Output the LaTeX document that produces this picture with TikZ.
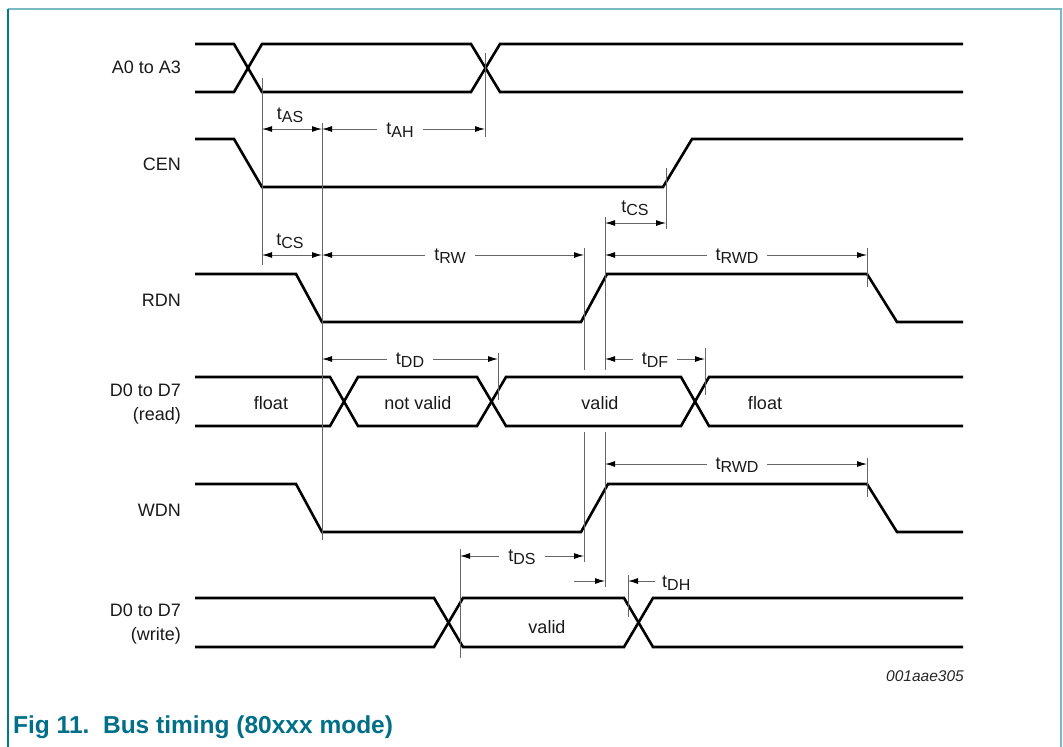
\documentclass[tikz,border=0pt]{standalone}
\usepackage{fontspec}
\setmainfont{Liberation Sans}
\usetikzlibrary{arrows.meta}
\definecolor{frameL}{RGB}{0,122,140}
\definecolor{frameT}{RGB}{120,186,196}
\definecolor{titlec}{RGB}{0,111,135}
\newcommand{\tlab}[1]{t\raisebox{-3pt}{\fontsize{16}{16}\selectfont #1}}
\begin{document}
\begin{tikzpicture}[x=1pt,y=-1pt,
  sig/.style={line width=2.6pt, line join=miter},
  refl/.style={line width=1pt, black!60},
  dimarr/.style={line width=1pt, black!60, {Latex[length=10pt,width=6pt,black]}-{Latex[length=10pt,width=6pt,black]}},
  onearr/.style={line width=1pt, black!60, -{Latex[length=10pt,width=6pt,black]}},
  lab/.style={font=\fontsize{18}{24}\selectfont, text=black!90, inner sep=1pt},
  ilab/.style={lab, fill=white, inner xsep=9pt},
  sname/.style={lab, anchor=east, align=right},
]
\useasboundingbox (0,0) rectangle (1063,747);
% frame
\draw[frameT, line width=2pt] (8,9) -- (1061,9) -- (1061,747);
\draw[frameL, line width=1.6pt] (8,9) -- (8,747);

% signal names
\node[sname] (nA) at (182,67) {A0 to A3};
\node[sname] (nC) at (182,164) {CEN};
\node[sname] (nR) at (182,300) {RDN};
\node[sname] (nDr) at (182,404) {D0 to D7\\(read)};
\node[sname] (nW) at (182,510) {WDN};
\node[sname] (nDw) at (182,624) {D0 to D7\\(write)};

% A0 to A3
\draw[sig] (195,44)--(234,44)--(262,92)--(471,92)--(500,44)--(963,44);
\draw[sig] (195,92)--(234,92)--(262,44)--(471,44)--(500,92)--(963,92);
% CEN
\draw[sig] (195,139)--(234,139)--(262,187)--(663,187)--(692,139)--(963,139);
% RDN
\draw[sig] (195,274)--(296,274)--(322,322)--(581,322)--(607,274)--(867,274)--(897,322)--(963,322);
% D0-D7 read
\draw[sig] (195,377)--(330,377)--(358,426)--(477,426)--(506,377)--(681,377)--(709,426)--(963,426);
\draw[sig] (195,426)--(330,426)--(358,377)--(477,377)--(506,426)--(681,426)--(709,377)--(963,377);
% WDN
\draw[sig] (195,484)--(296,484)--(322,532)--(581,532)--(608,484)--(867,484)--(897,532)--(963,532);
% D0-D7 write
\draw[sig] (195,598)--(434,598)--(463,647)--(624,647)--(653,598)--(963,598);
\draw[sig] (195,647)--(434,647)--(463,598)--(624,598)--(653,647)--(963,647);

% data labels
\node[lab] (f1) at (271,403) {float};
\node[lab] (nv) at (418,403) {not valid};
\node[lab] (v1) at (600,403) {valid};
\node[lab] (f2) at (765,403) {float};
\node[lab] (v2) at (547,627) {valid};

% reference lines
\draw[refl] (262,78) -- (262,265);
\draw[refl] (322,123) -- (322,540);
\draw[refl] (485,53) -- (485,137);
\draw[refl] (666,168) -- (666,229);
\draw[refl] (584,248) -- (584,370);
\draw[refl] (584,432) -- (584,562);
\draw[refl] (605,217) -- (605,370);
\draw[refl] (605,432) -- (605,587);
\draw[refl] (867,248) -- (867,287);
\draw[refl] (498,353) -- (498,400);
\draw[refl] (705,348) -- (705,395);
\draw[refl] (867,458) -- (867,497);
\draw[refl] (460,549) -- (460,658);
\draw[refl] (628,575) -- (628,617);

% dimension arrows
\draw[dimarr] (262,129) -- (322,129);
\node[lab] (tAS) at (290,115) {\tlab{AS}};
\draw[dimarr] (322,129) -- (485,129);
\node[ilab] (tAH) at (400,130) {\tlab{AH}};

\draw[dimarr] (262,255) -- (322,255);
\node[lab] (tCS1) at (290,241) {\tlab{CS}};
\draw[dimarr] (322,255) -- (584,255);
\node[ilab] (tRW) at (450,256) {\tlab{RW}};

\draw[dimarr] (605,223) -- (666,223);
\node[lab] (tCS2) at (635,208) {\tlab{CS}};
\draw[dimarr] (605,255) -- (867,255);
\node[ilab] (tRWD1) at (737,256) {\tlab{RWD}};

\draw[dimarr] (322,359) -- (498,359);
\node[ilab] (tDD) at (410,360) {\tlab{DD}};
\draw[dimarr] (605,359) -- (705,359);
\node[ilab] (tDF) at (655,360) {\tlab{DF}};

\draw[dimarr] (605,464) -- (867,464);
\node[ilab] (tRWD2) at (737,465) {\tlab{RWD}};

\draw[dimarr] (460,556) -- (584,556);
\node[ilab] (tDS) at (522,557) {\tlab{DS}};

\draw[onearr] (574,581) -- (605,581);
\draw[onearr] (655,581) -- (628,581);
\node[lab, anchor=west] (tDH) at (661,583) {\tlab{DH}};

% figure id and title
\node[anchor=east, inner sep=0pt, font=\fontsize{15.5}{18}\selectfont\itshape, text=black!85] (fid) at (964,676) {001aae305};
\node[anchor=base west, inner sep=0pt, font=\fontsize{24.5}{28}\selectfont\bfseries, text=titlec] (title) at (13,733) {Fig 11.\ \ Bus timing (80xxx mode)};
\end{tikzpicture}
\end{document}
